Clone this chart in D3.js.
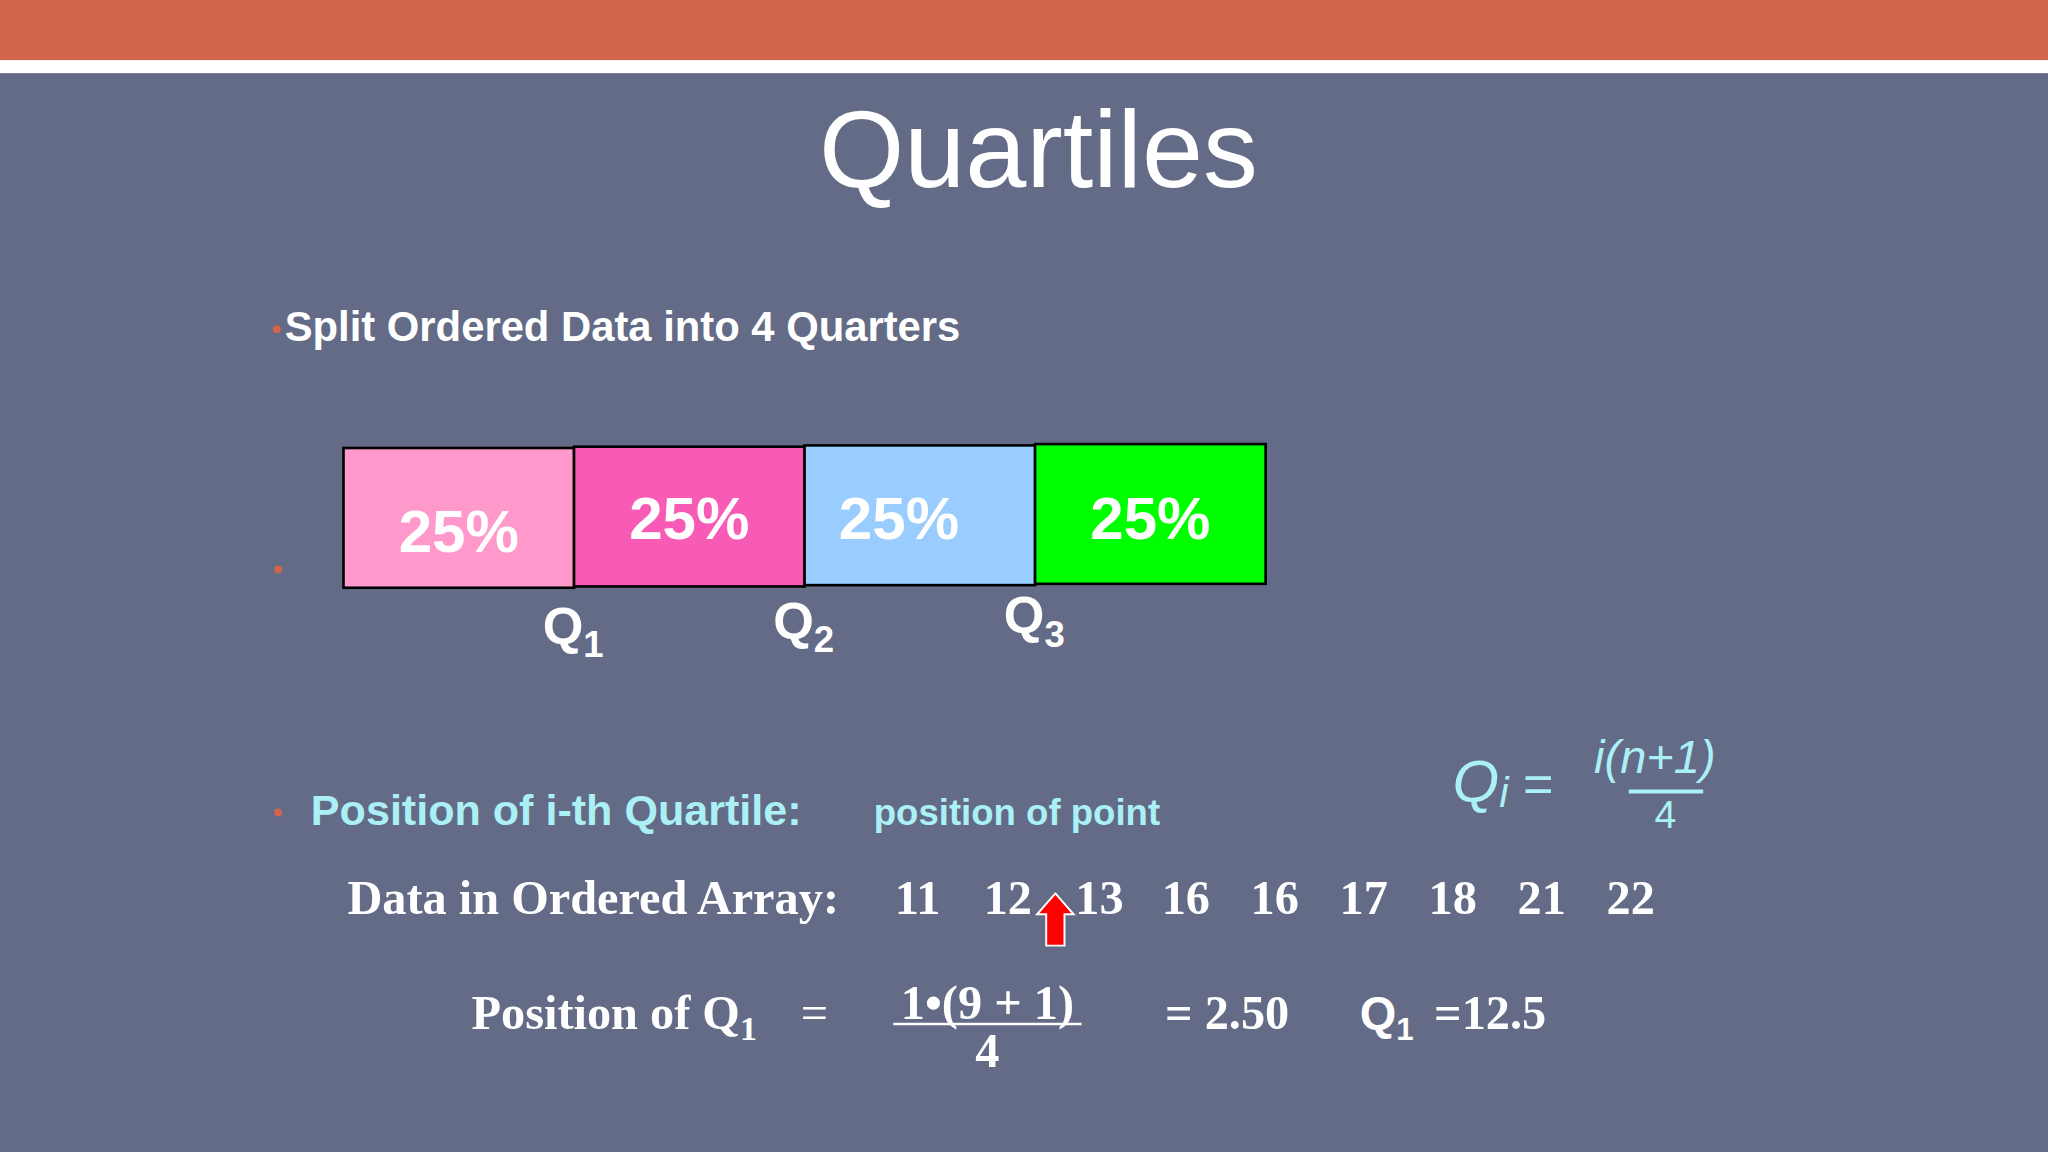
<!DOCTYPE html>
<html><head><meta charset="utf-8">
<script src="https://cdn.jsdelivr.net/npm/d3@7"></script>
<style>html,body{margin:0;padding:0;background:#636b86;overflow:hidden}</style>
</head><body><svg id="c" width="2048" height="1152" viewBox="0 0 1568 882"></svg>
<script>
const quarters = ["Q1 share","Q2 share","Q3 share","Q4 share"];
const shares = [25,25,25,25];
const quartileLabels = ["1","2","3"];
const orderedData = [11,12,13,16,16,17,18,21,22];
const boxColors = ["#ff99cc","#f85bb5","#99ccff","#00ff00"];

const svg = d3.select("#c");
svg.append("rect").attr("width",1568).attr("height",882).attr("fill","#636b86");
svg.append("rect").attr("width",1568).attr("height",46).attr("fill","#d3654b");
svg.append("rect").attr("y",46).attr("width",1568).attr("height",10).attr("fill","#ffffff");

const sans = "Liberation Sans, Arial, sans-serif";
const serif = "Liberation Serif, Times New Roman, serif";

svg.append("text").attr("x",795).attr("y",143).attr("text-anchor","middle")
  .attr("font-family",sans).attr("font-size",84).attr("fill","#fff").text("Quartiles");

svg.append("circle").attr("cx",212).attr("cy",252).attr("r",3).attr("fill","#d3654b");
svg.append("text").attr("x",218).attr("y",261).attr("font-family",sans).attr("font-weight","bold")
  .attr("font-size",32).attr("fill","#fff").text("Split Ordered Data into 4 Quarters");
svg.append("circle").attr("cx",213).attr("cy",436).attr("r",3).attr("fill","#d3654b");

// cumulative scale for boxes
const x = d3.scaleLinear().domain([0,100]).range([263,969]);
let cum = 0;
const boxes = shares.map((s,i)=>{const b={i,s,x0:cum,x1:cum+s};cum+=s;return b;});
const g = svg.append("g");
g.selectAll("rect").data(boxes).join("rect")
  .attr("x",d=>x(d.x0)).attr("width",d=>x(d.x1)-x(d.x0))
  .attr("y",d=>343-d.i).attr("height",107)
  .attr("fill",(d,i)=>boxColors[i]).attr("stroke","#000").attr("stroke-width",2);
g.selectAll("text").data(boxes).join("text")
  .attr("x",d=>(x(d.x0)+x(d.x1))/2 - (d.i===2?16:0)).attr("y",d=>d.i===0?423:413)
  .attr("text-anchor","middle").attr("font-family",sans).attr("font-weight","bold")
  .attr("font-size",46).attr("fill","#fff").text(d=>d.s+"%");

// quartile labels
const qt = svg.append("g").selectAll("text").data(quartileLabels).join("text")
  .attr("x",(d,i)=>x(shares.slice(0,i+1).reduce((a,b)=>a+b,0))-24)
  .attr("y",(d,i)=>493-i*4).attr("font-family",sans).attr("font-weight","bold")
  .attr("font-size",40).attr("fill","#fff");
qt.append("tspan").text("Q");
qt.append("tspan").attr("dy",10).attr("font-size",28).text(d=>d);

// position line
svg.append("circle").attr("cx",213).attr("cy",622).attr("r",3).attr("fill","#d3654b");
const cyan="#aaf0f5";
svg.append("text").attr("x",238).attr("y",632).attr("font-family",sans).attr("font-weight","bold")
  .attr("font-size",33).attr("fill",cyan).text("Position of i-th Quartile:");
svg.append("text").attr("x",669).attr("y",632).attr("font-family",sans).attr("font-weight","bold")
  .attr("font-size",28).attr("fill",cyan).text("position of point");

// formula
const f = svg.append("text").attr("x",1112).attr("y",614).attr("font-family",sans)
  .attr("font-style","italic").attr("font-size",46).attr("fill",cyan);
f.append("tspan").text("Q");
f.append("tspan").attr("font-size",32).attr("dy",4).text("i");
svg.append("text").attr("x",1166).attr("y",614).attr("font-family",sans).attr("font-size",40).attr("fill",cyan).text("=");
svg.append("text").attr("x",1267).attr("y",592).attr("text-anchor","middle").attr("font-family",sans)
  .attr("font-style","italic").attr("font-size",36).attr("fill",cyan).text("i(n+1)");
svg.append("line").attr("x1",1247).attr("x2",1304).attr("y1",606).attr("y2",606).attr("stroke",cyan).attr("stroke-width",3);
svg.append("text").attr("x",1275).attr("y",634).attr("text-anchor","middle").attr("font-family",sans)
  .attr("font-size",30).attr("fill",cyan).text("4");

// data row
svg.append("text").attr("x",266).attr("y",700).attr("font-family",serif).attr("font-weight","bold")
  .attr("font-size",37).attr("fill","#fff").text("Data in Ordered Array:");
const xi = d3.scalePoint().domain(d3.range(orderedData.length)).range([685,1230]);
svg.append("g").selectAll("text").data(orderedData).join("text")
  .attr("x",(d,i)=>xi(i)+(i===2?2:0)).attr("y",700).attr("font-family",serif).attr("font-weight","bold")
  .attr("font-size",37).attr("fill","#fff").text(d=>d);

// red arrow
svg.append("path").attr("d","M808,684 L822,700 L815,700 L815,724 L801,724 L801,700 L794,700 Z")
  .attr("fill","#ff0000").attr("stroke","#fff").attr("stroke-width",1.5);

// position of Q1
const p = svg.append("text").attr("x",361).attr("y",788).attr("font-family",serif).attr("font-weight","bold")
  .attr("font-size",37).attr("fill","#fff");
p.append("tspan").text("Position of Q");
p.append("tspan").attr("font-size",26).attr("dy",8).text("1");
svg.append("text").attr("x",613).attr("y",788).attr("font-family",serif).attr("font-size",37).attr("fill","#fff").text("=");
svg.append("text").attr("x",756).attr("y",780).attr("text-anchor","middle").attr("font-family",serif).attr("font-weight","bold")
  .attr("font-size",37).attr("fill","#fff").text("1•(9 + 1)");
svg.append("line").attr("x1",684).attr("x2",828).attr("y1",784).attr("y2",784).attr("stroke","#fff").attr("stroke-width",2);
svg.append("text").attr("x",756).attr("y",817).attr("text-anchor","middle").attr("font-family",serif).attr("font-weight","bold")
  .attr("font-size",37).attr("fill","#fff").text("4");
svg.append("text").attr("x",892).attr("y",788).attr("font-family",serif).attr("font-weight","bold")
  .attr("font-size",37).attr("fill","#fff").text("= 2.50");
const q = svg.append("text").attr("x",1041).attr("y",788).attr("font-family",sans).attr("font-weight","bold")
  .attr("font-size",36).attr("fill","#fff");
q.append("tspan").text("Q");
q.append("tspan").attr("font-size",24).attr("dy",8).text("1");
svg.append("text").attr("x",1098).attr("y",788).attr("font-family",serif).attr("font-weight","bold")
  .attr("font-size",37).attr("fill","#fff").text("=12.5");
</script></body></html>
